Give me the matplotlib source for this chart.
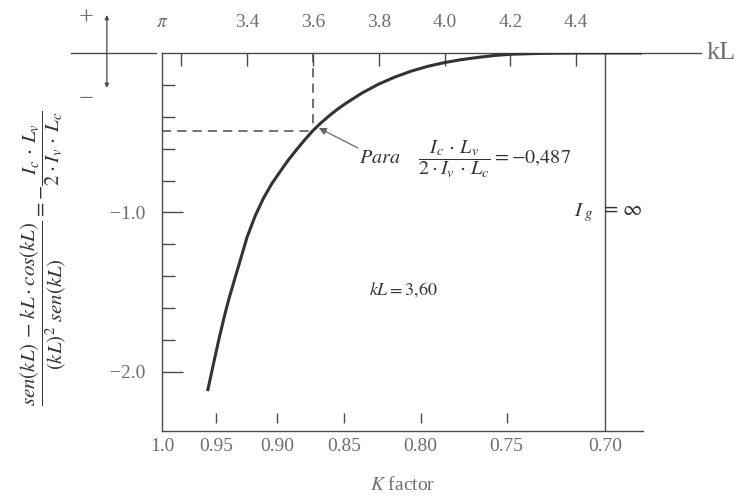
import matplotlib

matplotlib.use("Agg")
import matplotlib.pyplot as plt
import numpy as np

plt.rcParams["font.family"] = ["Liberation Serif", "DejaVu Serif"]
plt.rcParams["mathtext.fontset"] = "stix"

# curve: kL against the stability function
kl_values = [3.28, 3.29, 3.30, 3.315, 3.33, 3.345, 3.36, 3.38, 3.40, 3.425, 3.45,
             3.475, 3.50, 3.525, 3.55, 3.575, 3.60, 3.625, 3.65, 3.675, 3.70,
             3.75, 3.80, 3.85, 3.90, 3.95, 4.00, 4.05, 4.10, 4.15, 4.20, 4.30,
             4.40, 4.50, 4.60]
func_values = [-2.12, -2.025, -1.93, -1.79, -1.66, -1.54, -1.435, -1.295, -1.155,
               -1.02, -0.91, -0.82, -0.745, -0.672, -0.607, -0.545, -0.487, -0.437,
               -0.393, -0.352, -0.316, -0.25, -0.195, -0.15, -0.113, -0.083, -0.06,
               -0.042, -0.028, -0.016, -0.008, -0.002, 0.0, 0.0, 0.0]

top_ticks = [3.2, 3.4, 3.6, 3.8, 4.0, 4.2, 4.4]
top_labels = ["", "3.4", "3.6", "3.8", "4.0", "4.2", "4.4"]
k_ticks = [1.0, 0.95, 0.90, 0.85, 0.80, 0.75, 0.70]
k_labels = ["1.0", "0.95", "0.90", "0.85", "0.80", "0.75", "0.70"]
y_minor = [-0.2, -0.4, -0.6, -0.8, -1.2, -1.4, -1.6, -1.8]
y_major = [-1.0, -2.0]
y_major_labels = ["\u22121.0", "\u22122.0"]

kl_marked = 3.60
ratio_marked = -0.487
k_infinite = 0.70

line_col = "#4a4a4a"
text_col = "#6e6e6e"
ink = "#333333"

fig = plt.figure(figsize=(7.43, 5.03), dpi=100)
ax = fig.add_axes([162 / 743, 1 - 431 / 503, 481 / 743, 378 / 503])
ax.set_xlim(np.pi, 4.603)
ax.set_ylim(-2.37, 0.0)

for side in ["right", "top"]:
    ax.spines[side].set_visible(False)
for side in ["left", "bottom"]:
    ax.spines[side].set_color(line_col)
    ax.spines[side].set_linewidth(1.0)

# kL axis along the top, running past the frame
ax.plot([np.pi, 4.78], [0, 0], color=line_col, lw=1.0, clip_on=False)
ax.xaxis.set_ticks_position("top")
ax.set_xticks([np.pi] + top_ticks)
ax.set_xticklabels([r"$\pi$"] + top_labels)
ax.tick_params(axis="x", direction="in", length=9, width=1.0, color=line_col,
               pad=16, labelsize=14, labelcolor=text_col)
ax.xaxis.get_major_ticks()[0].tick2line.set_visible(False)

ax.set_yticks(y_major)
ax.set_yticklabels(y_major_labels)
ax.set_yticks(y_minor, minor=True)
ax.tick_params(axis="y", which="major", direction="in", length=15, width=1.0,
               color=line_col, pad=12, labelsize=14, labelcolor=text_col)
ax.tick_params(axis="y", which="minor", direction="in", length=9.5, width=1.0,
               color=line_col)

# K factor scale along the bottom
kax = ax.secondary_xaxis("bottom", functions=(lambda x: np.pi / x, lambda k: np.pi / k))
kax.set_xticks(k_ticks)
kax.set_xticklabels(k_labels)
kax.tick_params(length=0, pad=5, labelsize=14, labelcolor=text_col)
kax.spines["bottom"].set_visible(False)
kax.set_xlabel("$K$ factor", fontsize=14, color=text_col, labelpad=15)
ax.vlines([np.pi / k for k in k_ticks[1:-1]], 0.021, 0.048,
          transform=ax.get_xaxis_transform(), color=line_col, lw=1.0)

# I_g = infinity boundary
kl_inf = np.pi / k_infinite
ax.plot([kl_inf, kl_inf], [0, -2.37], color=line_col, lw=1.0)

ax.plot(kl_values, func_values, color=ink, lw=2.2, solid_capstyle="butt",
        solid_joinstyle="round")

ax.plot([np.pi, kl_marked], [ratio_marked, ratio_marked], color=line_col,
        lw=1.1, dashes=(6, 4))
ax.plot([kl_marked, kl_marked], [0, ratio_marked], color=line_col,
        lw=1.1, dashes=(6, 4))

ax.annotate("", xy=(3.618, -0.47), xytext=(3.737, -0.596),
            arrowprops=dict(arrowstyle="-|>", color="#666666", lw=0.9,
                            mutation_scale=11, shrinkA=0, shrinkB=0))
ax.text(3.74, -0.665, r"$\mathit{Para}\quad\ \dfrac{I_c\,\cdot\,L_v}{2\cdot I_v\,\cdot\,L_c}"
        r" = \mathit{-0{,}487}$", fontsize=14.5, color=ink, va="center",
        ha="left")
ax.text(3.874, -1.486, r"$kL = \mathit{3{,}60}$", fontsize=13, color=ink,
        ha="center", va="center")
ax.text(4.454, -1.0, r"$I_{\ g}$", fontsize=15, color=ink,
        ha="right", va="center")
ax.text(4.472, -0.99, r"$=\,\infty$", fontsize=15, color=ink,
        ha="left", va="center")

ax.text(4.795, 0.0, "kL", fontsize=19, color=text_col, ha="left", va="center",
        clip_on=False)

# sign convention marker at the upper left
ax.plot([2.864, 3.123], [0, 0], color=line_col, lw=1.0, clip_on=False)
ax.annotate("", xy=(2.974, 0.238), xytext=(2.974, -0.219),
            arrowprops=dict(arrowstyle="<|-|>", color=line_col, lw=0.9,
                            mutation_scale=6, shrinkA=0, shrinkB=0),
            annotation_clip=False)
ax.text(2.91, 0.215, "+", fontsize=19, color=text_col, ha="center",
        va="center", clip_on=False)
ax.text(2.91, -0.295, "\u2212", fontsize=19, color=text_col, ha="center",
        va="center", clip_on=False)

fig.text(44 / 743, 1 - 258 / 503,
         r"$\dfrac{sen(kL)\,-\,kL\cdot cos(kL)}{(kL)^2\ sen(kL)}"
         r" = -\dfrac{I_c\,\cdot\,L_v}{2\cdot I_v\,\cdot\,L_c}$",
         rotation=90, fontsize=15, color=ink, ha="center", va="center")

fig.savefig("out.png", dpi=100, facecolor="white")
